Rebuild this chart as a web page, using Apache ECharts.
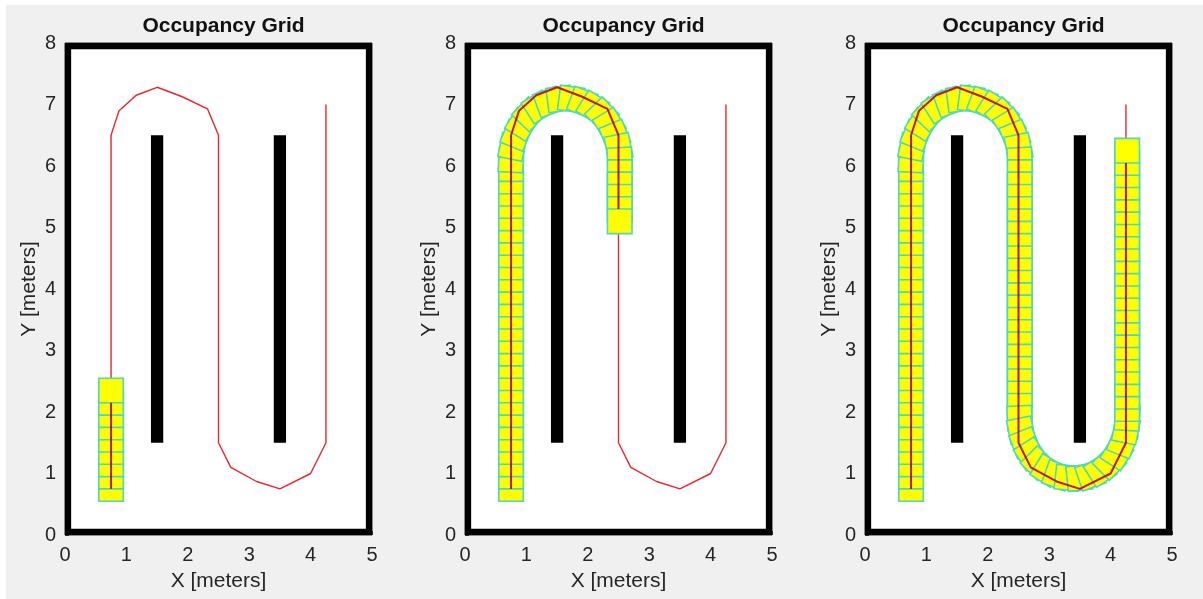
<!DOCTYPE html>
<html>
<head>
<meta charset="utf-8">
<script src="https://cdn.jsdelivr.net/npm/echarts@6/dist/echarts.min.js"></script>
<style>
  body { margin: 0; background: #fff; }
  #main { width: 1203px; height: 599px; }
</style>
</head>
<body>
<div id="main"></div>
<script>
// occupied cells of the map: [x0, y0, x1, y1] in meters
var occupied = [
	[0, 0, 5, 0.1], [0, 7.9, 5, 8], [0, 0, 0.1, 8], [4.9, 0, 5, 8],
	[1.4, 1.5, 1.6, 6.5], [3.4, 1.5, 3.6, 6.5]
];

// reference path waypoints
var refPath = [
	[0.75, 0.75], [0.75, 6.5], [0.88, 6.9], [1.16, 7.15], [1.5, 7.28], [1.9, 7.13],
	[2.32, 6.93], [2.5, 6.5], [2.5, 1.5], [2.7, 1.1], [3.12, 0.87], [3.5, 0.75],
	[4.0, 1.0], [4.25, 1.5], [4.25, 7.0]
];

// robot poses (center of footprint)
var poses = [
	// left leg
	[0.75, 0.75], [0.75, 0.95], [0.75, 1.15], [0.75, 1.35], [0.75, 1.55], [0.75, 1.75],
	[0.75, 1.95], [0.75, 2.15], [0.75, 2.35], [0.75, 2.55], [0.75, 2.75], [0.75, 2.95],
	[0.75, 3.15], [0.75, 3.35], [0.75, 3.55], [0.75, 3.75], [0.75, 3.95], [0.75, 4.15],
	[0.75, 4.35], [0.75, 4.55], [0.75, 4.75], [0.75, 4.95], [0.75, 5.15], [0.75, 5.35],
	[0.75, 5.55], [0.75, 5.75], [0.75, 5.95],
	// upper turn
	[0.75, 6.10], [0.77, 6.31], [0.83, 6.50], [0.92, 6.68], [1.04, 6.84], [1.19, 6.96],
	[1.36, 7.04], [1.54, 7.09], [1.73, 7.09], [1.91, 7.04], [2.08, 6.96], [2.23, 6.84],
	[2.35, 6.68], [2.44, 6.50], [2.50, 6.31], [2.52, 6.10],
	// down leg
	[2.52, 5.90], [2.52, 5.70], [2.52, 5.50], [2.52, 5.30], [2.52, 5.10],
	[2.52, 4.90], [2.52, 4.70], [2.52, 4.50], [2.52, 4.30], [2.52, 4.10], [2.52, 3.90],
	[2.52, 3.70], [2.52, 3.50], [2.52, 3.30], [2.52, 3.10], [2.52, 2.90], [2.52, 2.70],
	[2.52, 2.50], [2.52, 2.30], [2.52, 2.10], [2.52, 1.90],
	// lower turn
	[2.54, 1.70], [2.60, 1.50], [2.69, 1.32], [2.81, 1.17], [2.96, 1.05], [3.13, 0.97],
	[3.30, 0.93], [3.49, 0.93], [3.67, 0.97], [3.83, 1.05], [3.98, 1.17], [4.10, 1.32],
	[4.19, 1.50], [4.25, 1.70], [4.27, 1.90],
	// right leg
	[4.27, 2.05], [4.27, 2.25], [4.27, 2.45], [4.27, 2.65], [4.27, 2.85], [4.27, 3.05],
	[4.27, 3.25], [4.27, 3.45], [4.27, 3.65], [4.27, 3.85], [4.27, 4.05], [4.27, 4.25],
	[4.27, 4.45], [4.27, 4.65], [4.27, 4.85], [4.27, 5.05], [4.27, 5.25], [4.27, 5.45],
	[4.27, 5.65], [4.27, 5.85], [4.27, 6.05], [4.27, 6.25]
];

// per snapshot: how many poses are shown, how many waypoints are passed, where the driven line stops
var poseCount = [9, 48, 101];
var passedPts = [1, 8, 14];
var driveEnd = [[0.75, 2.15], [2.5, 5.3], [4.25, 6.05]];

var titles = ['Occupancy Grid', 'Occupancy Grid', 'Occupancy Grid'];
var gridLeft = [65, 465, 865];

var HALF = 0.2; // half size of robot footprint (m)
var FONT = 'Liberation Sans, Arial, sans-serif';

function rectItem(params, api) {
	var p0 = api.coord([api.value(0), api.value(1)]);
	var p1 = api.coord([api.value(2), api.value(3)]);
	return {
		type: 'rect',
		shape: {
			x: Math.min(p0[0], p1[0]), y: Math.min(p0[1], p1[1]),
			width: Math.abs(p1[0] - p0[0]), height: Math.abs(p1[1] - p0[1])
		},
		style: { fill: '#000' }
	};
}

function footprintItem(params, api) {
	var i = params.dataIndex;
	var a = poses[Math.max(i - 1, 0)];
	var b = poses[Math.min(i + 1, poses.length - 1)];
	var th = Math.atan2(b[1] - a[1], b[0] - a[0]);
	var c = Math.cos(th), s = Math.sin(th);
	var cx = api.value(0), cy = api.value(1);
	var pts = [[-HALF, -HALF], [HALF, -HALF], [HALF, HALF], [-HALF, HALF]].map(function (p) {
		return api.coord([cx + p[0] * c - p[1] * s, cy + p[0] * s + p[1] * c]);
	});
	return {
		type: 'polygon',
		shape: { points: pts },
		style: { fill: '#ffff00', stroke: '#48d8c4', lineWidth: 1.6 }
	};
}

var option = {
	backgroundColor: '#f0f0f0',
	animation: false,
	title: [],
	grid: [],
	xAxis: [],
	yAxis: [],
	series: [],
	graphic: [
		{ type: 'rect', shape: { x: 0, y: 0, width: 1203, height: 5 }, style: { fill: '#fff' } },
		{ type: 'rect', shape: { x: 0, y: 0, width: 6, height: 599 }, style: { fill: '#fff' } }
	]
};

for (var k = 0; k < 3; k++) {
	option.title.push({
		text: titles[k],
		left: gridLeft[k] + 153.5,
		top: 11,
		textAlign: 'center',
		textStyle: { fontFamily: FONT, fontSize: 21, fontWeight: 'bold', color: '#111' }
	});
	option.grid.push({
		left: gridLeft[k], top: 43, width: 307, height: 492,
		show: true, backgroundColor: '#fff', borderColor: '#262626', borderWidth: 1
	});
	option.xAxis.push({
		gridIndex: k, type: 'value', min: 0, max: 5, interval: 1,
		name: 'X [meters]', nameLocation: 'middle', nameGap: 36,
		nameTextStyle: { fontFamily: FONT, fontSize: 21, color: '#262626' },
		axisLine: { show: false },
		axisTick: { show: true, inside: true, length: 4, lineStyle: { color: '#262626' } },
		axisLabel: { fontFamily: FONT, fontSize: 20, color: '#262626', margin: 10 },
		splitLine: { show: false }
	});
	option.yAxis.push({
		gridIndex: k, type: 'value', min: 0, max: 8, interval: 1,
		name: 'Y [meters]', nameLocation: 'middle', nameGap: 25,
		nameTextStyle: { fontFamily: FONT, fontSize: 21, color: '#262626' },
		axisLine: { show: false },
		axisTick: { show: true, inside: true, length: 4, lineStyle: { color: '#262626' } },
		axisLabel: { fontFamily: FONT, fontSize: 20, color: '#262626', margin: 9 },
		splitLine: { show: false }
	});
	option.series.push({
		type: 'custom', xAxisIndex: k, yAxisIndex: k, z: 1,
		encode: { x: [0, 2], y: [1, 3] },
		renderItem: rectItem,
		data: occupied
	});
	option.series.push({
		type: 'line', xAxisIndex: k, yAxisIndex: k, z: 2,
		showSymbol: false, symbol: 'none',
		lineStyle: { color: '#e8262b', width: 1.4 },
		data: refPath
	});
	option.series.push({
		type: 'custom', xAxisIndex: k, yAxisIndex: k, z: 3,
		renderItem: footprintItem,
		data: poses.slice(0, poseCount[k])
	});
	option.series.push({
		type: 'line', xAxisIndex: k, yAxisIndex: k, z: 4,
		showSymbol: false, symbol: 'none',
		lineStyle: { color: '#c4161c', width: 2 },
		data: refPath.slice(0, passedPts[k]).concat([driveEnd[k]])
	});
}

var chart = echarts.init(document.getElementById('main'));
chart.setOption(option);
</script>
</body>
</html>
